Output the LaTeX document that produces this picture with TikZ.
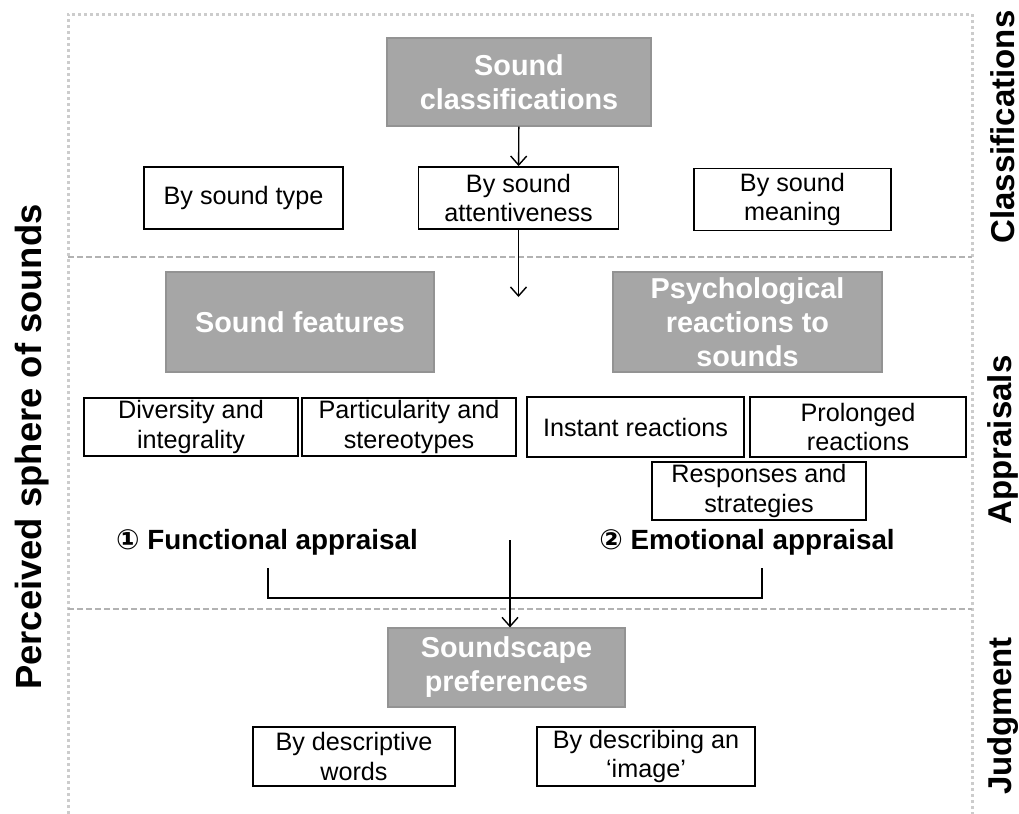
\documentclass[tikz,border=0pt]{standalone}
\usepackage{fontspec}
\setmainfont{Liberation Sans}
\newfontfamily\circfont{DejaVu Sans}
\usetikzlibrary{arrows.meta}

\begin{document}
\begin{tikzpicture}[
x=0.5pt,y=-0.5pt,
every node/.append style={font={\fontsize{12.6}{14.8}\selectfont}},
head/.style={fill=gray!70,draw=gray!85,line width=0.6pt,text=white,align=center,
  font={\fontsize{14.4}{17}\selectfont\bfseries},inner sep=0pt},
item/.style={draw,line width=0.9pt,align=center,inner sep=0pt},
stage/.style={rotate=90,font={\fontsize{16.5}{18}\selectfont\bfseries}},
appr/.style={font={\fontsize{13.9}{17}\selectfont\bfseries}},
flow/.style={-{Straight Barb[length=4.5pt,width=8pt]},line width=0.7pt},
frame/.style={gray!40,line width=1.5pt,dash pattern=on 1.5pt off 1.5pt},
sep/.style={gray!60,line width=0.6pt,dash pattern=on 3pt off 1.5pt},
]
\useasboundingbox (0,0) rectangle (1019,814);

% frame and stage separators
\draw[frame] (68,814) -- (68,14) -- (972,14) -- (972,814);
\draw[sep] (68,257) -- (972,257);
\draw[sep] (68,609) -- (972,609);

\node[rotate=90,font={\fontsize{18.2}{20}\selectfont\bfseries}] (sphere) at (32,447) {Perceived sphere of sounds};
\node[stage] (lcls) at (1003,127) {Classifications};
\node[stage] (lapp) at (1003,440) {Appraisals};
\node[stage] (ljud) at (1003,716) {Judgment};

% classifications
\node[head,minimum width=132pt,minimum height=44pt] (cls) at (519,82) {Sound\\classifications};
\node[item,minimum width=99.5pt,minimum height=31pt] (bytype) at (243.5,198) {By sound type};
\node[item,minimum width=100pt,minimum height=31pt] (byatt) at (518.5,198) {By sound\\attentiveness};
\node[item,minimum width=98.5pt,minimum height=31pt] (bymean) at (792.5,199.5) {By sound\\meaning};
\coordinate (down) at (518.5,297);

% appraisals
\node[head,minimum width=134pt,minimum height=50pt] (feat) at (300,322) {Sound features};
\node[head,minimum width=134.5pt,minimum height=50pt] (psy) at (747.5,322) {Psychological\\reactions to\\sounds};
\node[item,minimum width=107pt,minimum height=29pt] (div) at (191,427) {Diversity and\\integrality};
\node[item,minimum width=107pt,minimum height=29pt] (part) at (409,427) {Particularity and\\stereotypes};
\node[item,minimum width=108.5pt,minimum height=30pt] (inst) at (635.5,427) {Instant reactions};
\node[item,minimum width=108pt,minimum height=30pt] (prol) at (858,427) {Prolonged\\reactions};
\node[item,minimum width=107pt,minimum height=29pt] (resp) at (759,491) {Responses and\\strategies};
\node[appr] (func) at (267,542) {{\circfont ①} Functional appraisal};
\node[appr] (emo) at (747,542) {{\circfont ②} Emotional appraisal};
\coordinate (merge) at (510,540);
\coordinate (fl) at (268,568);
\coordinate (el) at (762,568);

% judgment
\node[head,minimum width=118.5pt,minimum height=39.5pt] (pref) at (506.5,667.5) {Soundscape\\preferences};
\node[item,minimum width=101pt,minimum height=29.5pt] (words) at (354,756.5) {By descriptive\\words};
\node[item,minimum width=109pt,minimum height=29.5pt] (image) at (646,756.5) {By describing an\\‘image’};

\draw[flow] (cls) -- (byatt);
\draw[flow] (byatt) -- (down);
\draw[line width=0.7pt] (fl) -- ++(0,30) -| (el);
\draw[flow] (merge) -- (merge |- pref.north);

\end{tikzpicture}
\end{document}
